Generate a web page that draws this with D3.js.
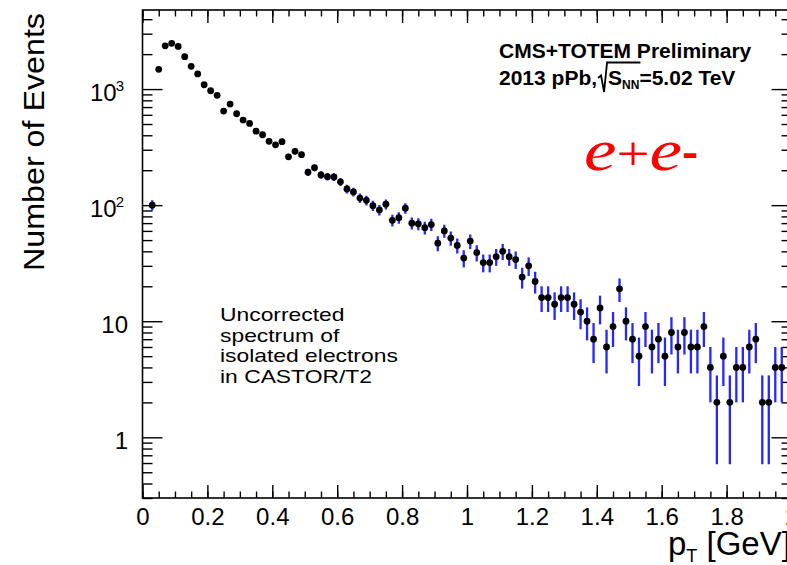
<!DOCTYPE html>
<html>
<head>
<meta charset="utf-8">
<script src="https://cdn.jsdelivr.net/npm/d3@7"></script>
<style>
  html, body { margin: 0; padding: 0; background: #fff; }
  svg { display: block; }
  text { font-family: "Liberation Sans", Arial, Helvetica, sans-serif; fill: #000; }
</style>
</head>
<body>
<svg id="chart" width="787" height="565"></svg>
<script>
// Transverse-momentum bin centres (GeV), 0.02 GeV wide bins
const ptBins = [
  0.03, 0.05, 0.07, 0.09, 0.11, 0.13, 0.15, 0.17, 0.19,
  0.21, 0.23, 0.25, 0.27, 0.29, 0.31, 0.33, 0.35, 0.37, 0.39,
  0.41, 0.43, 0.45, 0.47, 0.49, 0.51, 0.53, 0.55, 0.57, 0.59,
  0.61, 0.63, 0.65, 0.67, 0.69, 0.71, 0.73, 0.75, 0.77, 0.79,
  0.81, 0.83, 0.85, 0.87, 0.89, 0.91, 0.93, 0.95, 0.97, 0.99,
  1.01, 1.03, 1.05, 1.07, 1.09, 1.11, 1.13, 1.15, 1.17, 1.19,
  1.21, 1.23, 1.25, 1.27, 1.29, 1.31, 1.33, 1.35, 1.37, 1.39,
  1.41, 1.43, 1.45, 1.47, 1.49, 1.51, 1.53, 1.55, 1.57, 1.59,
  1.61, 1.63, 1.65, 1.67, 1.69, 1.71, 1.73, 1.75, 1.77, 1.79,
  1.81, 1.83, 1.85, 1.87, 1.89, 1.91, 1.93, 1.95, 1.97
];

// Raw event counts per bin
const events = [
  100, 1480, 2360, 2480, 2330, 1900, 1570, 1350, 1090,
  967, 883, 647, 743, 613, 541, 506, 434, 404, 355,
  331, 352, 261, 291, 272, 192, 210, 182, 176, 175,
  159, 138, 130, 115, 110, 99, 91, 102, 74, 78,
  94, 70, 69, 64, 68, 47, 60, 52, 45, 35,
  49, 39, 32, 32, 36, 40, 36, 34, 24, 30,
  22, 16, 16, 14, 16, 16, 14, 12, 10, 7,
  13, 6, 9, 19, 10, 7, 5, 9, 6, 7,
  5, 8, 6, 8, 6, 6, 9, 4, 2, 5,
  2, 4, 4, 6, 7, 2, 2, 4, 4
];

const xTickValues = [0, 0.2, 0.4, 0.6, 0.8, 1, 1.2, 1.4, 1.6, 1.8, 2];
const xTickLabels = ["0", "0.2", "0.4", "0.6", "0.8", "1", "1.2", "1.4", "1.6", "1.8", "2"];
const yTickValues = [1, 10, 100, 1000];
const yTickBases = ["1", "10", "10", "10"];
const yTickExponents = ["", "", "2", "3"];

const infoLines = ["Uncorrected", "spectrum of", "isolated electrons", "in CASTOR/T2"];

const xDomain = [0, 2];
const yDomain = [0.3, 4800];

const frame = { left: 142.5, right: 791.5, top: 10, bottom: 498 };

const svg = d3.select("#chart");

const x = d3.scaleLinear().domain(xDomain).range([frame.left, frame.right]);
const y = d3.scaleLog().domain(yDomain).range([frame.bottom, frame.top]);

function styleAxis(g) {
  g.select(".domain").remove();
  g.selectAll(".tick line").attr("stroke", "#000").attr("stroke-width", 1.4);
  g.selectAll(".tick text")
    .attr("fill", "#000")
    .style("font-family", '"Liberation Sans", Arial, sans-serif')
    .style("font-size", "24px");
}

// ---- x axes (ticks drawn inward) ----
const xMinorTicks = x.ticks(40);
svg.append("g")
  .attr("transform", `translate(0,${frame.bottom})`)
  .call(d3.axisBottom(x).tickValues(xMinorTicks).tickSize(-6.5).tickFormat(""))
  .call(styleAxis);
svg.append("g")
  .attr("transform", `translate(0,${frame.bottom})`)
  .call(d3.axisBottom(x).tickValues(xTickValues).tickSize(-13).tickPadding(10)
    .tickFormat((d, i) => xTickLabels[i]))
  .call(styleAxis);
svg.append("g")
  .attr("transform", `translate(0,${frame.top})`)
  .call(d3.axisTop(x).tickValues(xMinorTicks).tickSize(-6.5).tickFormat(""))
  .call(styleAxis);
svg.append("g")
  .attr("transform", `translate(0,${frame.top})`)
  .call(d3.axisTop(x).tickValues(xTickValues).tickSize(-13).tickFormat(""))
  .call(styleAxis);

// ---- y axes (log scale, ticks drawn inward) ----
const yMinorTicks = y.ticks().filter(v => !yTickValues.some(m => Math.abs(m - v) < 1e-9));
[[d3.axisLeft, frame.left], [d3.axisRight, frame.right]].forEach(([axisFn, pos]) => {
  svg.append("g")
    .attr("transform", `translate(${pos},0)`)
    .call(axisFn(y).tickValues(yMinorTicks).tickSize(-10).tickFormat(""))
    .call(styleAxis);
  svg.append("g")
    .attr("transform", `translate(${pos},0)`)
    .call(axisFn(y).tickValues(yTickValues).tickSize(-20).tickFormat(""))
    .call(styleAxis);
});

// y tick labels with power-of-ten superscripts
const yLab = svg.append("g");
yTickValues.forEach((v, i) => {
  const t = yLab.append("text")
    .attr("x", yTickExponents[i] ? 124 : 128)
    .attr("y", y(v) + 12)
    .attr("text-anchor", "end")
    .style("font-size", "24px")
    .text(yTickBases[i]);
  if (yTickExponents[i]) {
    t.append("tspan").attr("dx", -1).attr("dy", -10).style("font-size", "15px").text(yTickExponents[i]);
  }
});

// frame
svg.append("rect")
  .attr("x", frame.left).attr("y", frame.top)
  .attr("width", frame.right - frame.left).attr("height", frame.bottom - frame.top)
  .attr("fill", "none").attr("stroke", "#000").attr("stroke-width", 1.6);

// ---- data: Poisson (sqrt N) error bars and markers ----
svg.append("clipPath").attr("id", "plotClip")
  .append("rect")
  .attr("x", frame.left).attr("y", frame.top)
  .attr("width", frame.right - frame.left).attr("height", frame.bottom - frame.top);

const points = ptBins.map((pt, i) => ({ pt, n: events[i], err: Math.sqrt(events[i]) }));
const dataG = svg.append("g").attr("clip-path", "url(#plotClip)");

dataG.selectAll("line.err").data(points).enter().append("line")
  .attr("class", "err")
  .attr("x1", d => x(d.pt)).attr("x2", d => x(d.pt))
  .attr("y1", d => y(Math.max(d.n - d.err, yDomain[0])))
  .attr("y2", d => y(d.n + d.err))
  .attr("stroke", "#2626ff").attr("stroke-width", 2.3);

dataG.selectAll("circle.pt").data(points).enter().append("circle")
  .attr("class", "pt")
  .attr("cx", d => x(d.pt)).attr("cy", d => y(d.n))
  .attr("r", 3.4).attr("fill", "#000");

// ---- axis titles ----
svg.append("text")
  .attr("transform", "translate(44,13) rotate(-90)")
  .attr("text-anchor", "end")
  .attr("textLength", 258)
  .attr("lengthAdjust", "spacingAndGlyphs")
  .style("font-size", "30px")
  .text("Number of Events");

const xt = svg.append("text").attr("x", 668).attr("y", 555).style("font-size", "33px");
xt.append("tspan").text("p");
xt.append("tspan").attr("dy", 7).style("font-size", "18px").text("T");
xt.append("tspan").attr("dy", -7).text(" [GeV]");

// ---- header ----
svg.append("text")
  .attr("x", 499).attr("y", 58)
  .style("font-size", "21px").style("font-weight", "bold")
  .text("CMS+TOTEM Preliminary");

const h2 = svg.append("text")
  .attr("x", 499).attr("y", 85)
  .style("font-size", "21px").style("font-weight", "bold")
  .text("2013 pPb,");
const h2End = 499 + h2.node().getComputedTextLength();

const sx = h2End + 1;
const h3 = svg.append("text")
  .attr("x", sx + 10).attr("y", 85)
  .style("font-size", "21px").style("font-weight", "bold");
h3.append("tspan").text("S");
h3.append("tspan").attr("dy", 4).style("font-size", "12px").text("NN");
h3.append("tspan").attr("dy", -4).text("=5.02 TeV");
const radEnd = sx + 10 + h3.node().getSubStringLength(0, 3) + 1;

svg.append("path")
  .attr("d", `M${sx},78 L${sx + 3},75.5 L${sx + 6},92 L${sx + 9},62.5 L${radEnd},62.5`)
  .attr("fill", "none").attr("stroke", "#000").attr("stroke-width", 1.8);

// ---- e+e- tag ----
const ee = svg.append("g").attr("transform", "translate(584,170) scale(1.22,1)")
  .append("text")
  .attr("x", 0).attr("y", 0)
  .style("font-family", '"Liberation Serif", "Times New Roman", serif')
  .style("font-size", "60px")
  .style("fill", "#ff0000");
ee.append("tspan").style("font-style", "italic").text("e");
ee.append("tspan").style("font-size", "48px").text("+");
ee.append("tspan").style("font-style", "italic").text("e");
ee.append("tspan").style("font-family", '"Liberation Sans", Arial, sans-serif').style("font-weight", "bold").style("font-size", "40px").attr("dy", -4).text("-");

// ---- annotation ----
const info = svg.append("g").attr("transform", "translate(220,0) scale(1.27,1)");
info.selectAll("text").data(infoLines).enter().append("text")
  .attr("x", 0)
  .attr("y", (d, i) => 321.5 + i * 20.5)
  .style("font-size", "18px")
  .text(d => d);
</script>
</body>
</html>
